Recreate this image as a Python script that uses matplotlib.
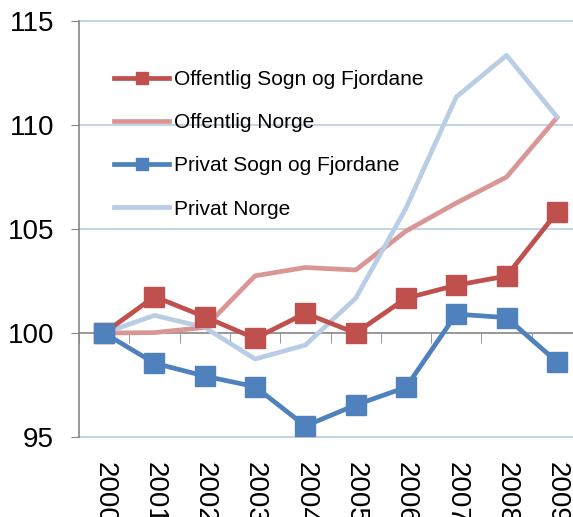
import matplotlib.pyplot as plt

plt.rcParams['font.family'] = ['Liberation Sans', 'DejaVu Sans']

years = ['2000', '2001', '2002', '2003', '2004', '2005', '2006', '2007', '2008', '2009']
offentlig_sfj = [100.0, 101.75, 100.78, 99.74, 100.95, 100.0, 101.67, 102.3, 102.74, 105.8]
offentlig_norge = [100.0, 100.02, 100.27, 102.75, 103.15, 103.03, 104.9, 106.25, 107.5, 110.35]
privat_sfj = [100.0, 98.55, 97.93, 97.42, 95.53, 96.54, 97.39, 100.91, 100.74, 98.62]
privat_norge = [100.0, 100.85, 100.27, 98.75, 99.42, 101.67, 106.0, 111.35, 113.35, 110.4]

x = list(range(len(years)))

fig = plt.figure(figsize=(5.73, 5.17), dpi=100)
ax = fig.add_axes([0.1379, 0.1547, 0.8778, 0.8046])

ax.plot(x, offentlig_sfj, '-s', color='#C0504D', lw=3.4, ms=14, label='Offentlig Sogn og Fjordane', zorder=4)
ax.plot(x, offentlig_norge, '-', color='#D99694', lw=3.4, label='Offentlig Norge', zorder=3)
ax.plot(x, privat_sfj, '-s', color='#4F81BD', lw=3.4, ms=14, label='Privat Sogn og Fjordane', zorder=4)
ax.plot(x, privat_norge, '-', color='#B9CDE5', lw=3.4, label='Privat Norge', zorder=3)

ax.set_xlim(-0.5, len(years) - 0.5)
ax.set_ylim(95, 115)
ax.set_yticks([95, 100, 105, 110, 115])
for v in [95, 105, 110, 115]:
    ax.axhline(v, color='#B9CDE5', lw=1.2, zorder=1, clip_on=False)

for s in ['top', 'right']:
    ax.spines[s].set_visible(False)
ax.spines['left'].set_color('#868686')
ax.spines['left'].set_linewidth(1.2)
ax.spines['bottom'].set_position(('data', 100))
ax.spines['bottom'].set_color('#868686')
ax.spines['bottom'].set_linewidth(1.2)
ax.spines['bottom'].set_zorder(2)

ax.tick_params(axis='y', length=6, color='#868686', labelsize=20, pad=12)
ax.set_xticks(x)
ax.set_xticks([i - 0.5 for i in x] + [len(years) - 0.5], minor=True)
ax.tick_params(axis='x', which='major', length=0, labelbottom=False)
ax.tick_params(axis='x', which='minor', length=7, color='#868686', direction='out')

sec = ax.secondary_xaxis(0.0)
sec.set_xticks(x)
sec.set_xticklabels(years, rotation=-90, fontsize=20)
sec.tick_params(length=0, pad=18)
sec.spines['bottom'].set_visible(False)

ax.legend(loc='upper left', bbox_to_anchor=(0.07, 0.882), frameon=False, fontsize=15,
          handlelength=2.65, handletextpad=0.2, labelspacing=1.16, borderpad=0,
          borderaxespad=0, markerscale=0.57)

plt.savefig('out.png', dpi=100)
